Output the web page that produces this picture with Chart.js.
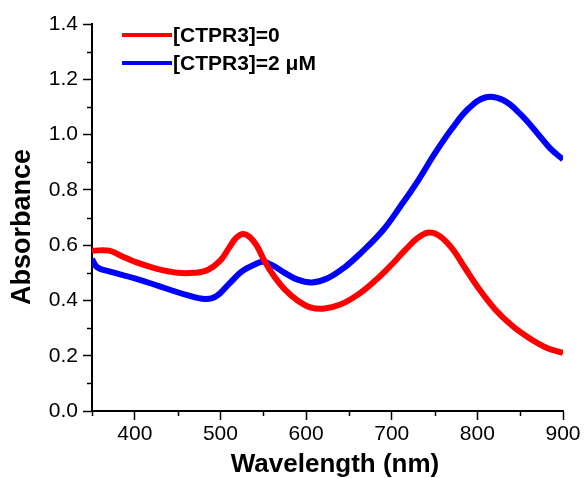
<!DOCTYPE html>
<html>
<head>
<meta charset="utf-8">
<script src="https://cdn.jsdelivr.net/npm/chart.js@4/dist/chart.umd.min.js"></script>
<style>
  html, body { margin: 0; padding: 0; background: #fff; }
  #wrap { width: 585px; height: 478px; }
</style>
</head>
<body>
<div id="wrap"><canvas id="absChart"></canvas></div>
<script>
// Wavelength (nm) and absorbance values
const redWavelengths = [350, 370, 385, 400, 425, 450, 470, 485, 500, 510, 518, 526, 534, 542, 552, 562, 575, 590, 605, 620, 640, 660, 680, 700, 715, 730, 742, 755, 770, 785, 800, 820, 840, 860, 880, 900];
const redValues      = [0.58, 0.58, 0.56, 0.54, 0.515, 0.50, 0.50, 0.51, 0.545, 0.59, 0.625, 0.64, 0.63, 0.60, 0.54, 0.49, 0.44, 0.40, 0.375, 0.37, 0.385, 0.42, 0.47, 0.53, 0.58, 0.625, 0.645, 0.635, 0.59, 0.52, 0.45, 0.37, 0.31, 0.265, 0.23, 0.21];

const blueWavelengths = [350, 356, 370, 400, 430, 460, 482, 495, 510, 525, 540, 550, 562, 575, 590, 607, 625, 645, 665, 690, 710, 730, 750, 770, 790, 810, 830, 850, 870, 885, 900];
const blueValues      = [0.55, 0.52, 0.505, 0.48, 0.45, 0.42, 0.405, 0.415, 0.46, 0.505, 0.53, 0.54, 0.525, 0.50, 0.475, 0.465, 0.48, 0.52, 0.575, 0.655, 0.74, 0.83, 0.93, 1.02, 1.095, 1.135, 1.125, 1.075, 1.005, 0.95, 0.91];

const seriesLabels = ['[CTPR3]=0', '[CTPR3]=2 \u03bcM'];
const xTicks = [400, 500, 600, 700, 800, 900];
const yTicks = [0.0, 0.2, 0.4, 0.6, 0.8, 1.0, 1.2, 1.4];
const xTitle = 'Wavelength (nm)';
const yTitle = 'Absorbance';

const FONT = '"Liberation Sans", Arial, sans-serif';
const toPoints = (xs, ys) => xs.map((x, i) => ({ x: x, y: ys[i] }));

// minor ticks, axis titles and the legend in the top left corner
const extras = {
  id: 'extras',
  afterDraw(chart) {
    const ctx = chart.ctx;
    const xs = chart.scales.x, ys = chart.scales.y;
    ctx.save();
    ctx.strokeStyle = '#000';
    ctx.lineWidth = 1.5;
    for (let v = 350; v <= 900; v += 100) {
      const px = Math.round(xs.getPixelForValue(v)) + 0.5;
      ctx.beginPath();
      ctx.moveTo(px, xs.top);
      ctx.lineTo(px, xs.top + 5);
      ctx.stroke();
    }
    for (let v = 0.1; v < 1.4; v += 0.2) {
      const py = Math.round(ys.getPixelForValue(v)) + 0.5;
      ctx.beginPath();
      ctx.moveTo(ys.right, py);
      ctx.lineTo(ys.right - 5, py);
      ctx.stroke();
    }
    // axis titles
    ctx.fillStyle = '#000';
    ctx.textAlign = 'center';
    ctx.textBaseline = 'middle';
    ctx.font = 'bold 26px ' + FONT;
    ctx.fillText(xTitle, 335, 465);
    ctx.save();
    ctx.translate(23, 227);
    ctx.rotate(-Math.PI / 2);
    ctx.font = 'bold 27px ' + FONT;
    ctx.fillText(yTitle, 0, 0);
    ctx.restore();
    // legend
    ctx.textAlign = 'left';
    ctx.font = 'bold 21px ' + FONT;
    chart.data.datasets.forEach((ds, i) => {
      const y = 35 + i * 28;
      ctx.strokeStyle = ds.borderColor;
      ctx.lineWidth = 4;
      ctx.beginPath();
      ctx.moveTo(122, y);
      ctx.lineTo(172, y);
      ctx.stroke();
      ctx.fillStyle = '#000';
      ctx.fillText(ds.label, 173, y + 1);
    });
    ctx.restore();
  }
};

new Chart(document.getElementById('absChart'), {
  type: 'line',
  data: {
    datasets: [
      {
        label: seriesLabels[0],
        data: toPoints(redWavelengths, redValues),
        borderColor: '#ff0000',
        borderWidth: 6,
        pointRadius: 0,
        tension: 0.4,
        fill: false
      },
      {
        label: seriesLabels[1],
        data: toPoints(blueWavelengths, blueValues),
        borderColor: '#0000ff',
        borderWidth: 6,
        pointRadius: 0,
        tension: 0.4,
        fill: false
      }
    ]
  },
  options: {
    responsive: true,
    maintainAspectRatio: false,
    animation: false,
    layout: { padding: { top: 24, right: 22, left: 0, bottom: 0 } },
    plugins: {
      legend: { display: false },
      tooltip: { enabled: false }
    },
    scales: {
      x: {
        type: 'linear',
        min: 350,
        max: 900,
        afterBuildTicks: (scale) => { scale.ticks = xTicks.map(v => ({ value: v })); },
        afterFit: (scale) => { scale.height = 67; },
        border: { color: '#000', width: 2 },
        grid: { drawOnChartArea: false, tickLength: 9, tickColor: '#000', tickWidth: 1.5 },
        ticks: {
          color: '#000',
          font: { family: FONT, size: 21 },
          padding: 2,
          maxRotation: 0
        }
      },
      y: {
        min: 0,
        max: 1.4,
        afterBuildTicks: (scale) => { scale.ticks = yTicks.map(v => ({ value: v })); },
        afterFit: (scale) => { scale.width = 92; },
        border: { color: '#000', width: 2 },
        grid: { drawOnChartArea: false, tickLength: 9, tickColor: '#000', tickWidth: 1.5 },
        ticks: {
          color: '#000',
          font: { family: FONT, size: 21 },
          padding: 5,
          callback: (v) => v.toFixed(1)
        }
      }
    }
  },
  plugins: [extras]
});
</script>
</body>
</html>
